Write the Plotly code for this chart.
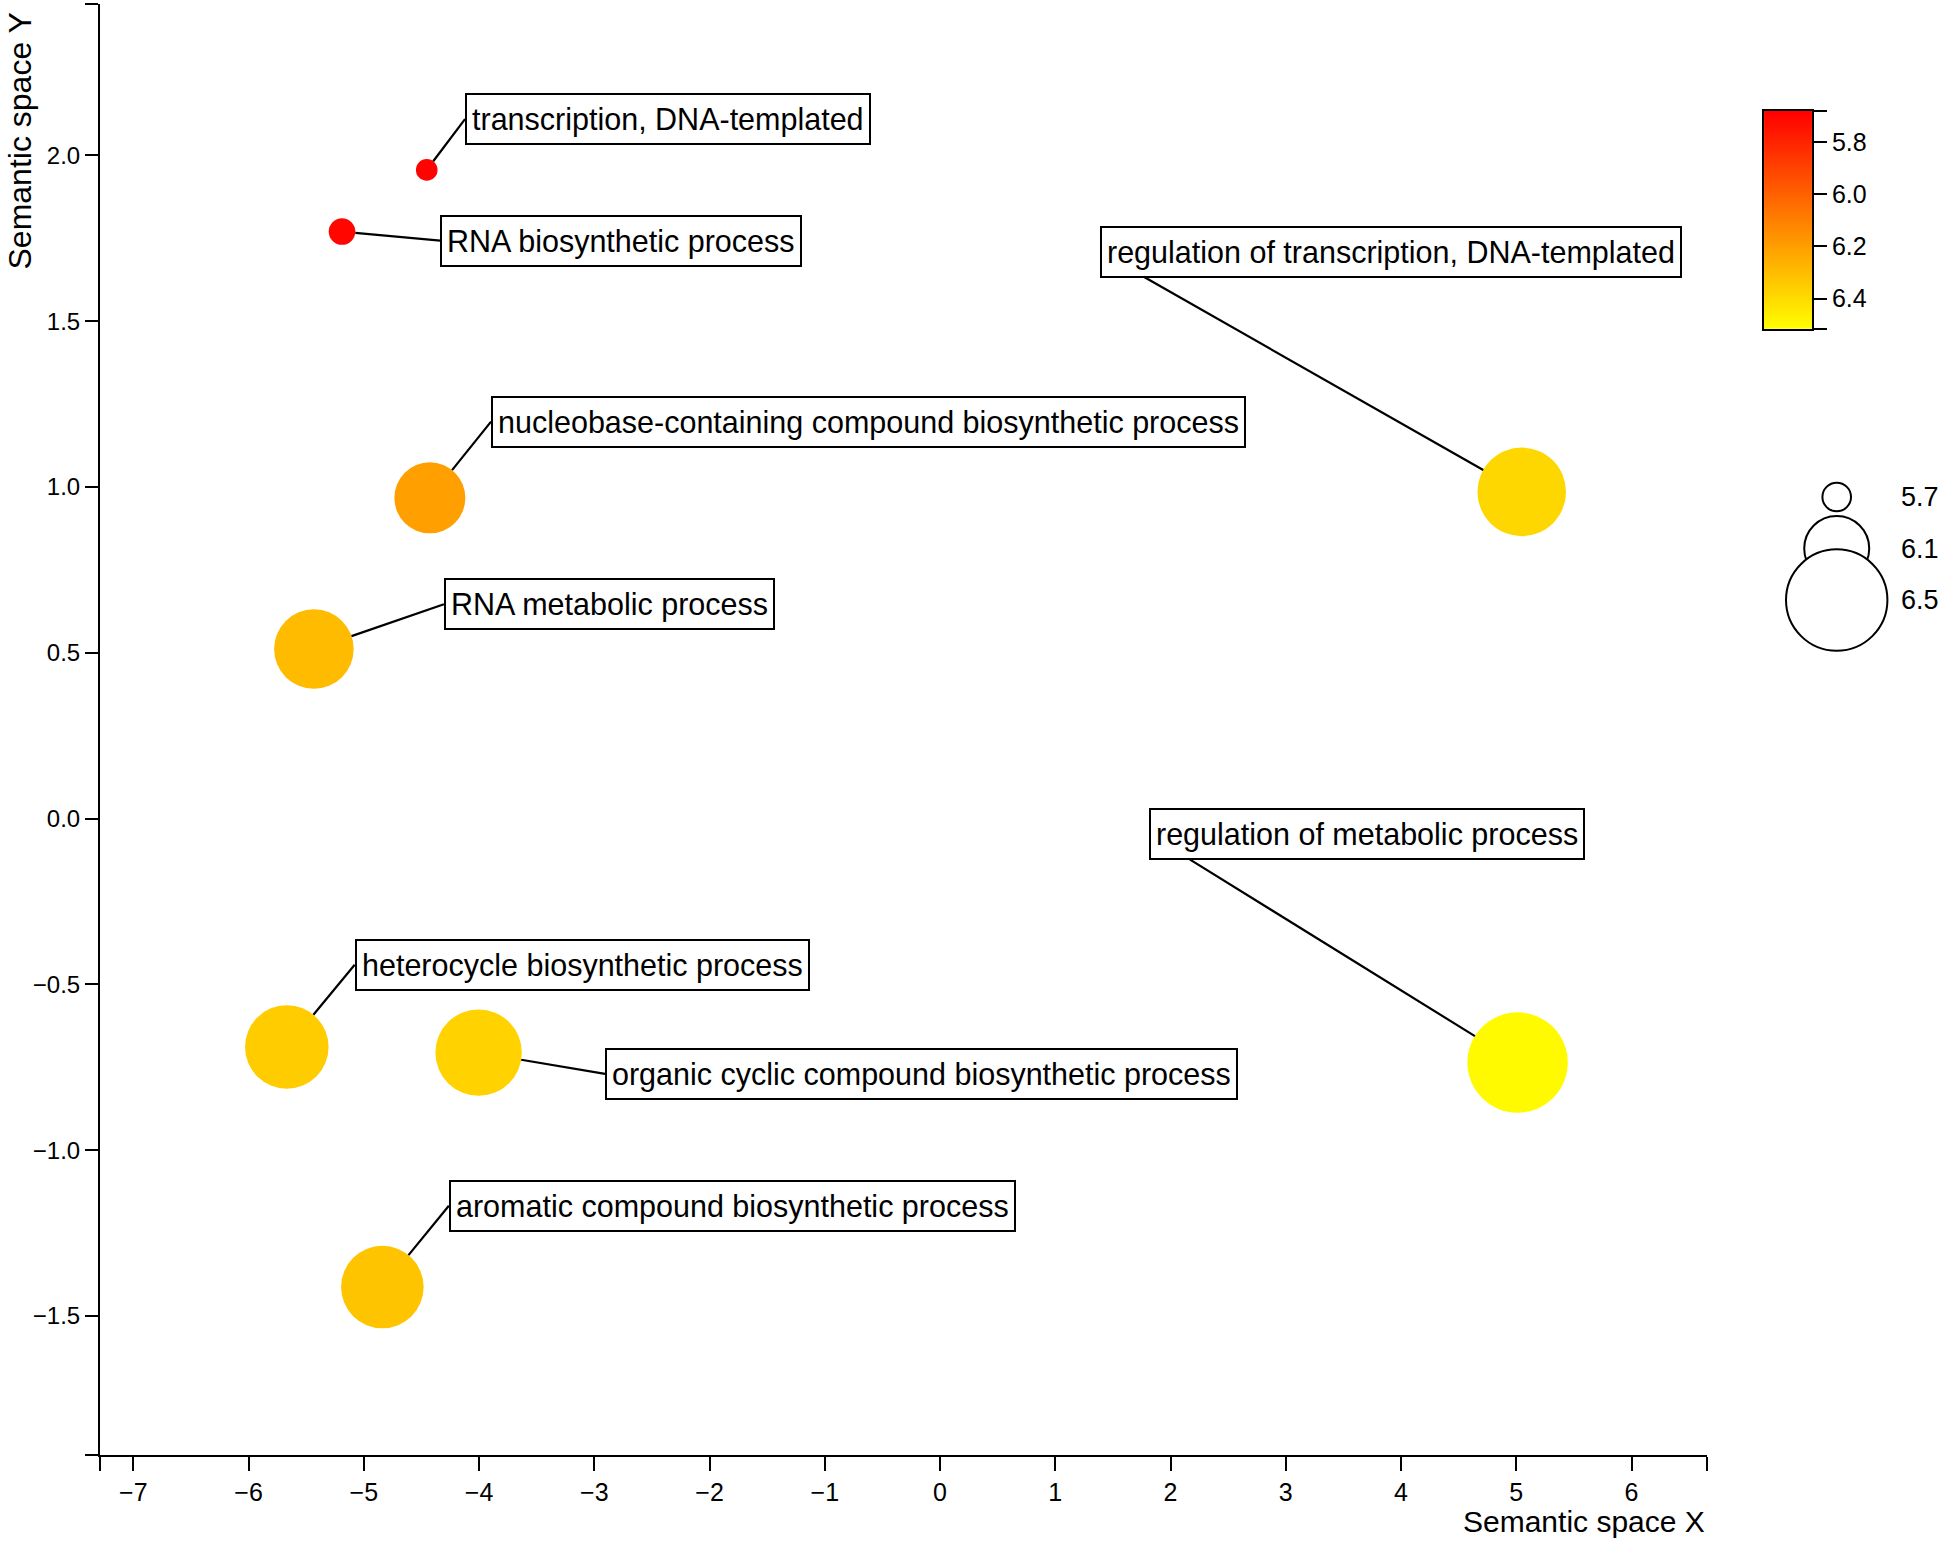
import plotly.graph_objects as go

# ---------------- data ----------------
terms = [
    "transcription, DNA-templated",
    "RNA biosynthetic process",
    "regulation of transcription, DNA-templated",
    "nucleobase-containing compound biosynthetic process",
    "RNA metabolic process",
    "regulation of metabolic process",
    "heterocycle biosynthetic process",
    "organic cyclic compound biosynthetic process",
    "aromatic compound biosynthetic process",
]
sem_x = [-4.454, -5.189, 5.047, -4.427, -5.433, 5.011, -5.668, -4.004, -4.839]
sem_y = [1.956, 1.770, 0.985, 0.967, 0.511, -0.736, -0.689, -0.706, -1.413]
colour_value = [5.69, 5.70, 6.385, 6.205, 6.293, 6.50, 6.349, 6.369, 6.323]
size_value = [5.623, 5.678, 6.359, 6.166, 6.260, 6.489, 6.304, 6.335, 6.293]
# label box anchor (left-middle of each label box), in data units
label_x = [-4.122, -4.337, 1.386, -3.896, -4.305, 1.816, -5.079, -2.907, -4.262]
label_y = [2.109, 1.743, 1.709, 1.197, 0.646, -0.048, -0.441, -0.770, -1.168]

x_ticks = [-7, -6, -5, -4, -3, -2, -1, 0, 1, 2, 3, 4, 5, 6]
y_ticks = [-1.5, -1.0, -0.5, 0.0, 0.5, 1.0, 1.5, 2.0]
cbar_ticks = [5.8, 6.0, 6.2, 6.4]
size_legend_values = [5.7, 6.1, 6.5]
size_legend_labels = ["5.7", "6.1", "6.5"]

# ---------------- scales / styles ----------------
x_range = [-7.289, 6.655]
y_range = [-1.9195, 2.4563]
c_min, c_max = 5.681, 6.516
colorscale = [[0.0, "#FF0000"], [1.0, "#FFFF00"]]
FONT = "Liberation Sans, Arial, Helvetica, sans-serif"


def radius(v):
    # bubble radius in px, linear in size value (matches the size legend)
    return 14.3 + (v - 5.7) * 45.5


def fmt(v):
    s = f"{v:.1f}" if isinstance(v, float) else str(v)
    return s.replace("-", "\u2212")


fig = go.Figure()

# main bubbles
fig.add_trace(go.Scatter(
    x=sem_x, y=sem_y, mode="markers",
    marker=dict(size=[2 * radius(v) for v in size_value],
                color=colour_value, colorscale=colorscale,
                cmin=c_min, cmax=c_max, showscale=False,
                line=dict(width=0), opacity=1),
    hovertext=terms, hoverinfo="text",
    xaxis="x", yaxis="y",
))

# colour bar drawn as a heatmap on its own axes (low values at top)
fig.add_trace(go.Heatmap(
    z=[[c_min, c_min], [c_max, c_max]], x=[0, 1], y=[c_min, c_max],
    colorscale=colorscale, zmin=c_min, zmax=c_max, zsmooth="best",
    showscale=False, xaxis="x2", yaxis="y2", hoverinfo="skip",
))

# size legend
fig.add_trace(go.Scatter(
    x=[1836.7] * len(size_legend_values),
    y=list(range(len(size_legend_values))),
    mode="markers", cliponaxis=False,
    marker=dict(size=[2 * radius(v) for v in size_legend_values],
                color="white", opacity=1,
                line=dict(color="black", width=2)),
    xaxis="x3", yaxis="y3", hoverinfo="skip",
))

annotations = []
for i, t in enumerate(terms):
    annotations.append(dict(
        x=sem_x[i], y=sem_y[i], xref="x", yref="y",
        ax=label_x[i], ay=label_y[i], axref="x", ayref="y",
        text=t, showarrow=True, arrowhead=0, arrowwidth=2.2,
        arrowcolor="black", standoff=radius(size_value[i]),
        xanchor="left", yanchor="middle", height=38,
        bgcolor="white", bordercolor="black", borderwidth=2, borderpad=5,
        font=dict(family=FONT, size=30.5, color="black"),
    ))

for i, lab in enumerate(size_legend_labels):
    annotations.append(dict(
        x=1899, y=i, xref="x3", yref="y3", text=lab, showarrow=False,
        xanchor="left", yanchor="middle",
        font=dict(family=FONT, size=27, color="black"),
    ))

# axis titles
annotations.append(dict(
    x=0.8715, y=-0.0454, xref="paper", yref="paper",
    text="Semantic space X", showarrow=False,
    xanchor="right", yanchor="middle",
    font=dict(family=FONT, size=30, color="black"),
))
annotations.append(dict(
    x=-0.0435, y=0.993, xref="paper", yref="paper",
    text="Semantic space Y", showarrow=False, textangle=-90,
    xanchor="center", yanchor="top",
    font=dict(family=FONT, size=32, color="black"),
))

axis_common = dict(showgrid=False, zeroline=False, showline=True,
                   linecolor="black", linewidth=2, ticks="outside",
                   tickwidth=2, tickcolor="black")

fig.update_layout(
    width=1944, height=1541,
    margin=dict(l=100, r=0, t=0, b=86),
    paper_bgcolor="white", plot_bgcolor="white",
    showlegend=False,
    font=dict(family=FONT, color="black"),
    xaxis=dict(**axis_common, domain=[0, 0.8715], range=x_range,
               anchor="y", ticklen=14,
               tickfont=dict(family=FONT, size=25, color="black"),
               tickvals=[x_range[0]] + x_ticks + [x_range[1]],
               ticktext=[""] + [fmt(v) for v in x_ticks] + [""]),
    yaxis=dict(**axis_common, domain=[0, 0.99725], range=y_range,
               anchor="x", ticklen=13,
               tickfont=dict(family=FONT, size=24, color="black"),
               tickvals=[y_range[0]] + y_ticks + [y_range[1]],
               ticktext=[""] + [fmt(v) for v in y_ticks] + [""]),
    xaxis2=dict(domain=[0.9024, 0.9284], range=[-0.5, 1.5], anchor="y2",
                showline=True, mirror=True, linecolor="black", linewidth=2,
                showticklabels=False, ticks="", showgrid=False,
                zeroline=False, fixedrange=True),
    yaxis2=dict(domain=[0.7739, 0.9239], range=[c_max, c_min], anchor="x2",
                side="right", showline=True, mirror=True, linecolor="black",
                linewidth=2, ticks="outside", ticklen=13, tickwidth=2,
                tickcolor="black", showgrid=False, zeroline=False,
                tickvals=[c_min] + cbar_ticks + [c_max],
                ticktext=[""] + [f"{v:.1f}" for v in cbar_ticks] + [""],
                tickfont=dict(family=FONT, size=25, color="black")),
    xaxis3=dict(domain=[0.9165, 1.0], range=[1790, 1944], anchor="y3",
                visible=False, fixedrange=True),
    yaxis3=dict(domain=[0.5699, 0.6761], range=[2.5, -0.5], anchor="x3",
                visible=False, fixedrange=True),
    annotations=annotations,
)

fig.write_html(
    "out.html",
    config={"displayModeBar": False},
    post_script="document.body.style.margin='0';"
                "document.body.style.overflow='hidden';",
)
